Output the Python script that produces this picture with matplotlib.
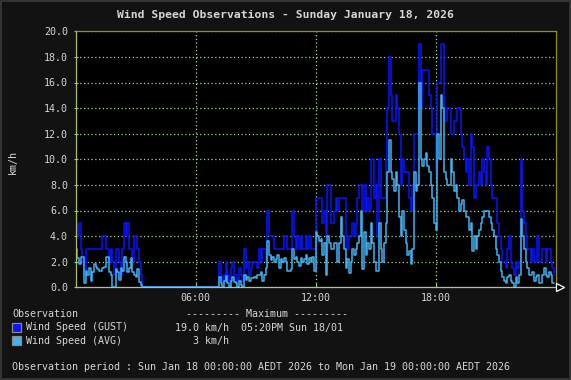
import numpy as np
import matplotlib
matplotlib.use("Agg")
import matplotlib.pyplot as plt
from matplotlib.patches import Rectangle

# ---------------- data (5-minute samples, km/h) ----------------
gust_kmh = [
    # 00h
    5, 4, 5, 3, 2, 1, 3, 3, 3, 3, 3, 3,
    # 01h
    3, 3, 3, 3, 4, 4, 3, 3, 2, 3, 2, 1,
    # 02h
    3, 3, 2, 1, 3, 5, 4, 5, 3, 3, 2, 4,
    # 03h
    4, 3, 2, 1, 0, 0, 0, 0, 0, 0, 0, 0,
    # 04h
    0, 0, 0, 0, 0, 0, 0, 0, 0, 0, 0, 0,
    # 05h
    0, 0, 0, 0, 0, 0, 0, 0, 0, 0, 0, 0,
    # 06h
    0, 0, 0, 0, 0, 0, 0, 0, 0, 0, 0, 0,
    # 07h
    0, 0, 2, 1, 0.5, 1, 2, 1, 0.5, 1.5, 2, 1,
    # 08h
    1, 0.5, 1.5, 1, 0.5, 3, 1.5, 2, 1, 1.5, 2, 2,
    # 09h
    2, 1.5, 3, 2, 3, 3, 2, 6, 4, 4, 4, 3,
    # 10h
    3, 3, 3, 3, 3, 4, 4, 3, 3, 3, 6, 4,
    # 11h
    3, 4, 3, 4, 3, 3, 4, 3, 4, 3, 3, 3,
    # 12h
    7, 7, 7, 7, 5, 6, 4, 8, 8, 5, 5, 6,
    # 13h
    7, 6, 7, 7, 7, 7, 4, 3, 4, 4, 5, 4,
    # 14h
    5, 7, 8, 8, 6, 8, 6, 7, 6, 10, 10, 7,
    # 15h
    8, 4, 10, 7, 7, 7, 10, 14, 18, 15, 13, 13,
    # 16h
    15, 14, 12, 8, 10, 9, 9, 9, 7, 6, 8, 12,
    # 17h
    12, 12, 19, 14, 17, 17, 17, 17, 15, 14, 12, 12,
    # 18h
    9, 16, 16, 19, 19, 13, 13, 14, 14, 12, 12, 13,
    # 19h
    13, 14, 14, 12, 11, 10, 9, 10, 8, 12, 11, 7,
    # 20h
    8, 8, 9, 8, 10, 9, 8, 11, 10, 8, 7, 7,
    # 21h
    7, 5, 4, 3, 2, 2, 1.5, 3, 4, 2, 1.5, 1,
    # 22h
    2, 1.5, 2, 10, 6, 5, 4, 3, 3, 2, 3, 2,
    # 23h
    2, 4, 2, 2, 3, 3, 2, 3, 3, 2, 1.5, 1,
]

avg_kmh = [
    # 00h
    3, 2.3, 1.8, 2.4, 2.4, 0.3, 1.3, 1.0, 1.5, 0.5, 1.2, 1.8,
    # 01h
    1.6, 1.4, 1.3, 1.3, 1.5, 1.6, 2.4, 2.4, 1.2, 1.0, 0, 0,
    # 02h
    1.4, 1.2, 0.6, 1.5, 1.3, 2.4, 2.0, 1.2, 1.5, 2.3, 1.2, 1.0,
    # 03h
    0.8, 1.4, 0.4, 0.2, 0, 0, 0, 0, 0, 0, 0, 0,
    # 04h
    0, 0, 0, 0, 0, 0, 0, 0, 0, 0, 0, 0,
    # 05h
    0, 0, 0, 0, 0, 0, 0, 0, 0, 0, 0, 0,
    # 06h
    0, 0, 0, 0, 0, 0, 0, 0, 0, 0, 0, 0,
    # 07h
    0, 0, 0.8, 0.3, 0, 0.5, 0.9, 0.3, 0, 0.5, 0.8, 0.4,
    # 08h
    0.3, 0, 0.5, 0.2, 0, 1, 0.6, 0.8, 0.5, 0.7, 0.7, 0.8,
    # 09h
    0.7, 1, 1, 1.2, 0.5, 1, 1.5, 3.6, 2.5, 2.1, 2.4, 2.0,
    # 10h
    2.2, 2.5, 1.5, 2.2, 2.0, 2.3, 2.0, 1.3, 1.3, 1.4, 3.0, 2.2,
    # 11h
    2.4, 2.0, 1.7, 2.3, 2.0, 2.2, 2.5, 1.8, 2.3, 2.0, 2.4, 1.3,
    # 12h
    4.3, 4.0, 3.6, 3.8, 2.5, 3.5, 1.0, 4.0, 3.5, 3.0, 3.0, 3.5,
    # 13h
    3.5, 2.0, 3.5, 5.5, 4.0, 3.0, 1.5, 2.2, 1.1, 2.0, 3.0, 2.5,
    # 14h
    3.0, 3.5, 4.0, 6.0, 1.4, 4.3, 2.5, 3.5, 3.0, 5.0, 3.5, 2.0,
    # 15h
    1.3, 1.3, 5.0, 3.0, 2.0, 3.5, 5.0, 9.0, 11.5, 9.0, 8.5, 7.5,
    # 16h
    9.0, 8.0, 5.5, 4.0, 6.0, 4.5, 3.5, 2.5, 2.8, 1.8, 3.0, 9.0,
    # 17h
    7.5, 8.0, 16.0, 10.0, 9.5, 10.0, 10.5, 9.5, 9.0, 8.0, 7.0, 5.0,
    # 18h
    4.5, 12.0, 10.0, 15.0, 14.0, 9.0, 8.5, 8.0, 8.0, 10.0, 9.0, 7.5,
    # 19h
    8.0, 7.0, 6.0, 6.5, 6.8, 6.0, 5.5, 5.5, 4.5, 5.0, 2.8, 4.0,
    # 20h
    3.0, 4.0, 4.5, 5.0, 5.5, 6.0, 6.0, 6.0, 5.5, 5.0, 4.5, 4.0,
    # 21h
    3.0, 2.5, 2.0, 1.3, 0.8, 0.5, 0.3, 0.8, 1.0, 0.5, 0.3, 0,
    # 22h
    0.8, 0.3, 1.0, 5.3, 4.0, 3.0, 2.0, 1.5, 1.0, 1.0, 1.2, 0.5,
    # 23h
    0.8, 1.0, 0.3, 0.3, 1.0, 1.5, 1.0, 0.8, 1.2, 1.0, 0.3, 0.3,
]

x_tick_hours = [6, 12, 18]
x_tick_labels = ["06:00", "12:00", "18:00"]
y_ticks = [0, 2, 4, 6, 8, 10, 12, 14, 16, 18, 20]

title = "Wind Speed Observations - Sunday January 18, 2026"
y_label = "km/h"
series_names = ["Wind Speed (GUST)", "Wind Speed (AVG)"]
max_texts = ["19.0 km/h  05:20PM Sun 18/01", "   3 km/h"]
period_text = ("Observation period : Sun Jan 18 00:00:00 AEDT 2026 to "
               "Mon Jan 19 00:00:00 AEDT 2026")

# ---------------- style ----------------
W, H = 571, 380
BG = "#121212"
TXT = "#d6d6d6"
GRID = "#a8d898"
GUST_C = "#0a14ff"
AVG_C = "#40b2f2"
MONO = "DejaVu Sans Mono"

plt.rcParams["font.family"] = [MONO, "DejaVu Sans"]

fig = plt.figure(figsize=(W / 100, H / 100), dpi=100, facecolor=BG)

def fx(px):
    return px / W

def fy(py):
    return 1 - py / H

ax = fig.add_axes([fx(75.7), fy(287.3), (555.7 - 75.7) / W, (287.3 - 31.3) / H])
ax.set_facecolor("black")

hours = np.arange(len(gust_kmh)) * (5 / 60)
gust = np.array(gust_kmh, dtype=float)
avg = np.array(avg_kmh, dtype=float)

ax.plot(hours, gust, drawstyle="steps-post", color=GUST_C, lw=1.1, zorder=3)
ax.plot(hours, avg, drawstyle="steps-post", color=AVG_C, lw=1.1, zorder=4)

ax.set_xlim(0, 24)
ax.set_ylim(0, 20)
ax.set_xticks(x_tick_hours)
ax.set_xticklabels(x_tick_labels)
ax.set_yticks(y_ticks)
ax.set_yticklabels([f"{v:.1f}" for v in y_ticks])

ax.grid(True, color=GRID, linestyle=(0, (1, 2)), lw=0.9, zorder=1)
ax.set_axisbelow(True)

ax.tick_params(axis="y", colors=TXT, labelsize=7.2, length=3, width=0.8,
               direction="inout", color="#9fd080", pad=4)
ax.tick_params(axis="x", colors=TXT, labelsize=7.2, length=3, width=0.8,
               direction="in", color="#9fd080", pad=4)

ax.spines["left"].set_color("#a8c060")
ax.spines["bottom"].set_color("#a0c888")
ax.spines["top"].set_color("#8c8c34")
ax.spines["right"].set_color("#8c8c34")
for s in ax.spines.values():
    s.set_linewidth(0.9)
    s.set_zorder(5)

# arrow at the end of the x axis
ax.plot([1.008], [0], marker=">", markersize=6, mfc="black", mec="white",
        mew=0.9, transform=ax.transAxes, clip_on=False, zorder=6)

fig.text(fx(12.5), fy(162), y_label, color=TXT, fontsize=7.2, rotation=90,
         ha="center", va="center")

fig.text(0.5, fy(15), title, color=TXT, fontsize=8.2, fontweight="bold",
         ha="center", va="center")

# legend block
fig.text(fx(12), fy(314.3), "Observation", color=TXT, fontsize=7.2,
         ha="left", va="center")
fig.text(fx(186.5), fy(314.3), "--------- Maximum ---------", color=TXT,
         fontsize=7.2, ha="left", va="center")

row_y = [327.5, 340.7]
for name, mtxt, col, ry in zip(series_names, max_texts, [GUST_C, AVG_C], row_y):
    fig.patches.append(Rectangle((fx(12), fy(ry + 4.2)), fx(8.5), 8.5 / H,
                                 transform=fig.transFigure, facecolor=col,
                                 edgecolor="#8a8a8a", lw=0.9))
    fig.text(fx(26.2), fy(ry), name, color=TXT, fontsize=7.2,
             ha="left", va="center")
    fig.text(fx(174.8), fy(ry), mtxt, color=TXT, fontsize=7.2,
             ha="left", va="center")

fig.text(fx(12), fy(366.7), period_text, color=TXT, fontsize=7.2,
         ha="left", va="center")

# outer frame
fig.patches.append(Rectangle((0.001, 0.0015), 0.998, 0.997,
                             transform=fig.transFigure, facecolor="none",
                             edgecolor="#3a3a3a", lw=1.2))

fig.savefig("out.png", dpi=100, facecolor=BG)
